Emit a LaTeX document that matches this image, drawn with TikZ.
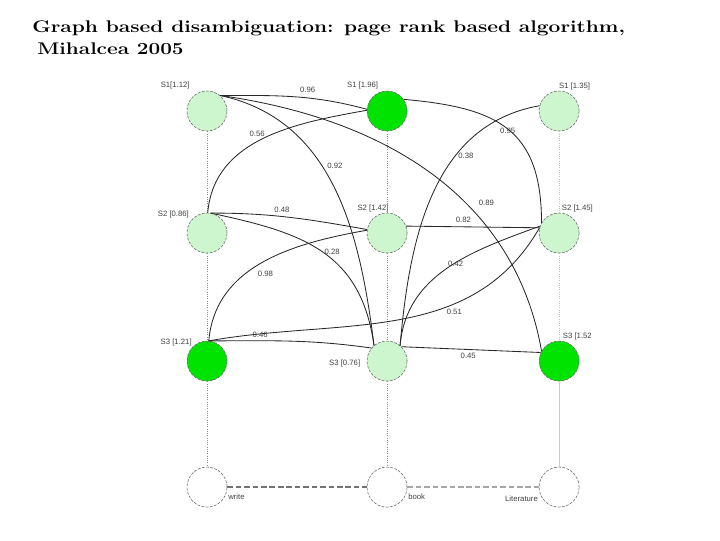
\documentclass[tikz,border=0pt]{standalone}
\usepackage{fontspec}
\newfontfamily\labelfont{Liberation Sans}
\usetikzlibrary{positioning,arrows.meta}

\definecolor{palegreen}{RGB}{206,246,206}
\definecolor{litgreen}{RGB}{0,226,0}
\definecolor{rimgray}{RGB}{105,105,105}
\definecolor{wiregray}{RGB}{40,40,40}

\tikzset{
  sense/.style={circle, draw=rimgray, dash pattern=on 2pt off 1pt, fill=palegreen,
    minimum size=1cm, inner sep=0pt},
  chosen/.style={sense, fill=litgreen},
  word/.style={sense, fill=white},
  sl/.style={font=\labelfont\fontsize{5.5}{6}\selectfont, text=black!75, inner sep=0.5pt},
  wl/.style={font=\labelfont\fontsize{5.5}{6}\selectfont, text=black!75, inner sep=0.5pt},
  wire/.style={draw=wiregray, line width=0.6pt},
  vline/.style={draw=black!45, densely dotted, line width=0.6pt},
  hline/.style={draw=black!55, dash pattern=on 4pt off 2pt, line width=0.9pt},
  headline/.style={anchor=base west, font=\bfseries\fontsize{12}{14}\selectfont, inner sep=0pt}
}

\begin{document}
\begin{tikzpicture}[x=0.025cm, y=0.025cm, on grid]
		\useasboundingbox (0,0) rectangle (720,-540);

		\node[headline] (title) at (32,-32) {\scalebox{1.24}[1]{Graph based disambiguation: page rank based algorithm,}};
		\node[headline] (subtitle) at (37,-54) {\scalebox{1.23}[1]{Mihalcea 2005}};

		% senses of write, book, Literature
		\node[sense, label={[sl,xshift=-1.5pt,yshift=5pt]above left:{S1[1.12]}}] (s1l) at (207,-111) {};
		\node[chosen, label={[sl,xshift=4.5pt,yshift=5pt]above left:{S1 [1.96]}}] (s1m) [right=4.5cm of s1l] {};
		\node[sense, label={[sl,xshift=11pt]above:{S1 [1.35]}}] (s1r) [right=4.3cm of s1m] {};
		\node[sense, label={[sl,xshift=-2pt]above left:{S2 [0.86]}}] (s2l) [below=3.05cm of s1l] {};
		\node[sense, label={[sl,xshift=-10pt]above:{S2 [1.42]}}] (s2m) [below=3.05cm of s1m] {};
		\node[sense, label={[sl,xshift=13pt]above:{S2 [1.45]}}] (s2r) [below=3.05cm of s1r] {};
		\node[chosen, label={[sl]above left:{S3 [1.21]}}] (s3l) [below=3.2cm of s2l] {};
		\node[sense, label={[sl,xshift=-4pt,yshift=-2pt]left:{S3 [0.76]}}] (s3m) [below=3.2cm of s2m] {};
		\node[chosen, label={[sl,xshift=13pt]above:{S3 [1.52}}] (s3r) [below=3.2cm of s2r] {};

		% words
		\node[word, label={[sl,yshift=-7pt]right:write}] (write) [below=3.15cm of s3l] {};
		\node[word, label={[sl,yshift=-7pt]right:book}] (book) [below=3.15cm of s3m] {};
		\node[word, label={[sl,yshift=-8pt]left:Literature}] (lit) [below=3.15cm of s3r] {};

		\draw[vline] (s1l) -- (s2l) (s2l) -- (s3l) (s3l) -- (write);
		\draw[vline] (s1m) -- (s2m) (s2m) -- (s3m) (s3m) -- (book);
		\draw[vline, draw=black!25] (s1r) -- (s2r) (s2r) -- (s3r);
		\draw[vline, draw=black!20, solid] (s3r) -- (lit);
		\draw[hline] (write) -- (book);
		\draw[hline, draw=black!35] (book) -- (lit);

		\path[wire]
		(s1l.50) edge[out=0, in=165] node[wl, pos=0.6, above=3pt] (w96) {0.96} (s1m.175)
		edge[out=-12, in=97] node[wl, pos=0.42, right=3pt] (w92) {0.92} (s3m.130)
		edge[out=-8, in=100] node[wl, pos=0.64, above right=4pt] (w89) {0.89} (s3r.150)
		(s2l.88) edge[out=85, in=190] node[wl, pos=0.47, above=3pt] (w56) {0.56} (s1m.178)
		(s1m.35) edge[out=-5, in=90, looseness=1.3] node[wl, pos=0.5, yshift=-1pt] (w95) {0.95} (s2r.150)
		(s1r.165) edge[out=190, in=85] node[wl, pos=0.35, right=1.5pt] (w38) {0.38} (s3m.50)
		(s2l.80) edge[out=0, in=170] node[wl, pos=0.45, above=2pt] (w48) {0.48} (s2m.170)
		edge[out=-12, in=98, looseness=1.15] node[wl, pos=0.5, right=1pt] (w28) {0.28} (s3m.130)
		(s3l.85) edge[out=85, in=190] node[wl, pos=0.45, below right=3pt] (w98) {0.98} (s2m.172)
		edge[out=10, in=240] node[wl, pos=0.67, below=3pt] (w51) {0.51} (s2r.165)
		edge[out=0, in=172] node[wl, pos=0.3, above=1.5pt] (w46) {0.46} (s3m.140)
		(s2m.20) edge node[wl, pos=0.43, above=2pt] (w82) {0.82} (s2r.165)
		(s2r.160) edge[out=200, in=85] node[wl, pos=0.5, above right=0pt] (w42) {0.42} (s3m.50)
		(s3m.45) edge node[wl, pos=0.48, below=2pt] (w45) {0.45} (s3r.155);
	\end{tikzpicture}
\end{document}
